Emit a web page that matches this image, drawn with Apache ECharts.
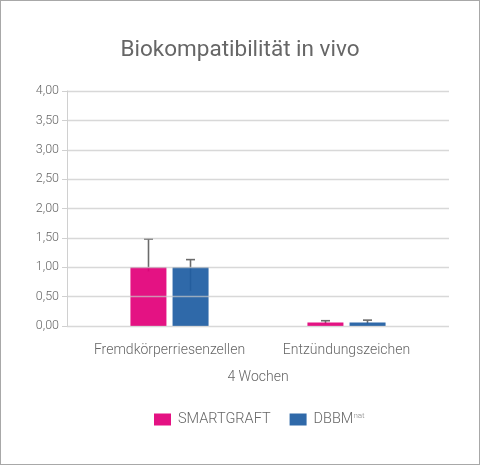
<!DOCTYPE html>
<html>
<head>
<meta charset="utf-8">
<script src="https://cdn.jsdelivr.net/npm/echarts@6/dist/echarts.min.js"></script>
<style>
  html, body { margin: 0; padding: 0; background: #fff; }
  #chart { width: 478px; height: 463px; border: 1px solid #a8a8a8; }
</style>
</head>
<body>
<div id="chart"></div>
<script>
// data
var categories = ['Fremdkörperriesenzellen', 'Entzündungszeichen'];
var smartgraft = [1.00, 0.06];
var dbbm = [1.00, 0.06];
var smartgraftLow = [0.93, 0.04];
var smartgraftHigh = [1.48, 0.09];
var dbbmLow = [0.60, 0.04];
var dbbmHigh = [1.13, 0.10];
var yMin = 0, yMax = 4, yStep = 0.5;

(function () {
    var myChart = echarts.init(document.getElementById('chart'));

    function fmt(v) { return v.toFixed(2).replace('.', ','); }

    function errorSeries(name, low, high, offset) {
        return {
            name: name + '-err',
            type: 'custom',
            xAxisIndex: 1,
            yAxisIndex: 1,
            z: 1,
            silent: true,
            data: categories.map(function (c, i) { return [i, low[i], high[i]]; }),
            renderItem: function (params, api) {
                var lo = api.coord([api.value(0), api.value(1)]);
                var hi = api.coord([api.value(0), api.value(2)]);
                var x = lo[0] + offset;
                var style = { stroke: '#6b6b6b', lineWidth: 1.6 };
                return {
                    type: 'group',
                    children: [
                        { type: 'line', shape: { x1: x, y1: lo[1], x2: x, y2: hi[1] }, style: style },
                        { type: 'line', shape: { x1: x - 4.5, y1: hi[1], x2: x + 4.5, y2: hi[1] }, style: style }
                    ]
                };
            }
        };
    }

    var txt = { fontFamily: 'Roboto', fontWeight: 300, color: '#666' };

    var option = {
        animation: false,
        title: {
            text: 'Biokompatibilität in vivo',
            left: 'center',
            top: 33,
            textStyle: { fontFamily: 'Roboto', fontWeight: 'normal', fontSize: 22.5, color: '#666' }
        },
        legend: {
            bottom: 32,
            left: 148,
            icon: 'rect',
            itemWidth: 17,
            itemHeight: 12,
            itemGap: 19,
            data: ['SMARTGRAFT', 'DBBM'],
            formatter: function (n) {
                return n === 'DBBM' ? '{a|DBBM}{s|nat}' : '{a|' + n + '}';
            },
            textStyle: {
                rich: {
                    a: { fontFamily: 'Roboto', fontWeight: 300, fontSize: 14.5, color: '#666', padding: [0, 0, 0, 2] },
                    s: { fontFamily: 'Roboto', fontWeight: 300, fontSize: 8, color: '#888', verticalAlign: 'top', padding: [0, 0, 8, 0] }
                }
            }
        },
        grid: [
            { left: 66, right: 30, top: 90, bottom: 138 },
            { left: 80, right: 44, top: 90, bottom: 138 }
        ],
        xAxis: [
            { type: 'category', gridIndex: 0, data: [''], show: false },
            {
                type: 'category',
                gridIndex: 1,
                data: categories,
                axisLine: { show: false },
                axisTick: { show: false },
                axisLabel: Object.assign({ fontSize: 14, margin: 17, interval: 0 }, txt),
                name: '4 Wochen',
                nameLocation: 'middle',
                nameGap: 44,
                nameTextStyle: Object.assign({ fontSize: 14 }, txt)
            }
        ],
        yAxis: [
            {
                type: 'value',
                gridIndex: 0,
                min: yMin,
                max: yMax,
                interval: yStep,
                z: 5,
                axisLine: { show: true, lineStyle: { color: '#d0d0d0' } },
                axisTick: { show: true, length: 5, lineStyle: { color: '#d0d0d0' } },
                splitLine: { lineStyle: { color: 'rgba(200,200,200,0.7)', width: 1.3 } },
                axisLabel: Object.assign({ fontSize: 12.5, margin: 8, formatter: fmt }, txt)
            },
            { type: 'value', gridIndex: 1, min: yMin, max: yMax, show: false }
        ],
        series: [
            errorSeries('SMARTGRAFT', smartgraftLow, smartgraftHigh, -21),
            errorSeries('DBBM', dbbmLow, dbbmHigh, 21),
            {
                name: 'SMARTGRAFT',
                type: 'bar',
                xAxisIndex: 1,
                yAxisIndex: 1,
                z: 2,
                barWidth: 36,
                barGap: '17%',
                itemStyle: {
                    color: '#e2007a',
                    opacity: 0.93
                },
                data: smartgraft
            },
            {
                name: 'DBBM',
                type: 'bar',
                xAxisIndex: 1,
                yAxisIndex: 1,
                z: 2,
                barWidth: 36,
                itemStyle: {
                    color: '#1f5ea3',
                    opacity: 0.93
                },
                data: dbbm
            }
        ]
    };

    myChart.setOption(option);
})();
</script>
</body>
</html>
